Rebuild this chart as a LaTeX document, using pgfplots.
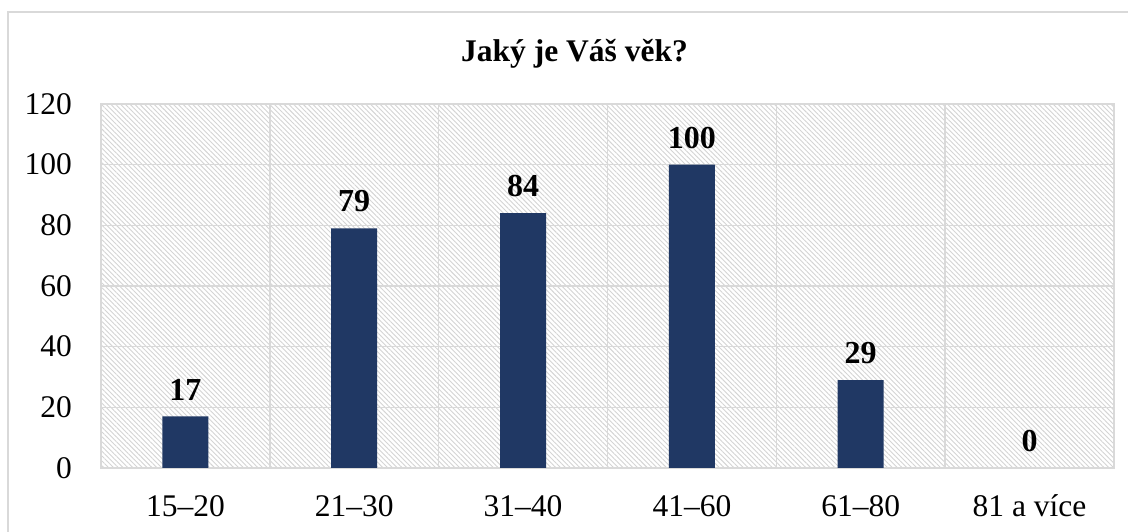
\documentclass[border=0pt]{standalone}
\usepackage{pgfplots}
\pgfplotsset{compat=1.18}
\usepackage{fontspec}
\setmainfont{Liberation Serif}
\usetikzlibrary{patterns.meta}
\definecolor{barblue}{RGB}{32,56,100}
\definecolor{gridgray}{RGB}{217,217,217}
\definecolor{hatchgray}{RGB}{212,212,212}
\begin{document}
\begin{tikzpicture}[x=1pt,y=1pt]
\useasboundingbox (0,0) rectangle (1128,532);
\clip (0,0) rectangle (1128,532);
\fill[white] (0,0) rectangle (1128,532);
\draw[gridgray, line width=1.5pt] (8,-20) -- (8,520) -- (1150,520);
\node[font=\fontsize{31.5}{36}\selectfont\bfseries, anchor=base] at (574.5,470) {Jaký je Váš věk?};
\begin{axis}[
  at={(101pt,64pt)}, anchor=south west,
  scale only axis, width=1013pt, height=364pt,
  xmin=-0.5, xmax=5.5, ymin=0, ymax=120,
  ytick={0,20,...,120},
  xtick={0,...,5},
  xticklabels={15–20,21–30,31–40,41–60,61–80,81 a více},
  minor xtick={0.5,1.5,...,4.5},
  xminorgrids, ymajorgrids,
  major tick length=0, minor tick length=0,
  axis line style={gridgray, line width=1.4pt},
  major grid style={gridgray, line width=1.4pt},
  minor grid style={gridgray, line width=1.4pt},
  axis background/.style={pattern={Lines[angle=-45, distance=3.4pt, line width=0.9pt]}, pattern color=hatchgray},
  /pgf/number format/assume math mode=true,
  ticklabel style={font=\fontsize{31.5}{36}\selectfont},
  xticklabel style={anchor=base, inner sep=0pt, yshift=-49pt},
  yticklabel style={anchor=east, inner sep=0pt, xshift=-29pt},
  ybar, bar width=46pt, bar shift=0pt,
  nodes near coords,
  every node near coord/.append style={font=\fontsize{32}{36}\selectfont\bfseries, anchor=south, inner sep=0pt, yshift=16pt, text=black},
]
\addplot[fill=barblue, draw=none] coordinates {(0,17) (1,79) (2,84) (3,100) (4,29)};
\addplot[fill=none, draw=none] coordinates {(5,0)};
\end{axis}
\end{tikzpicture}
\end{document}
